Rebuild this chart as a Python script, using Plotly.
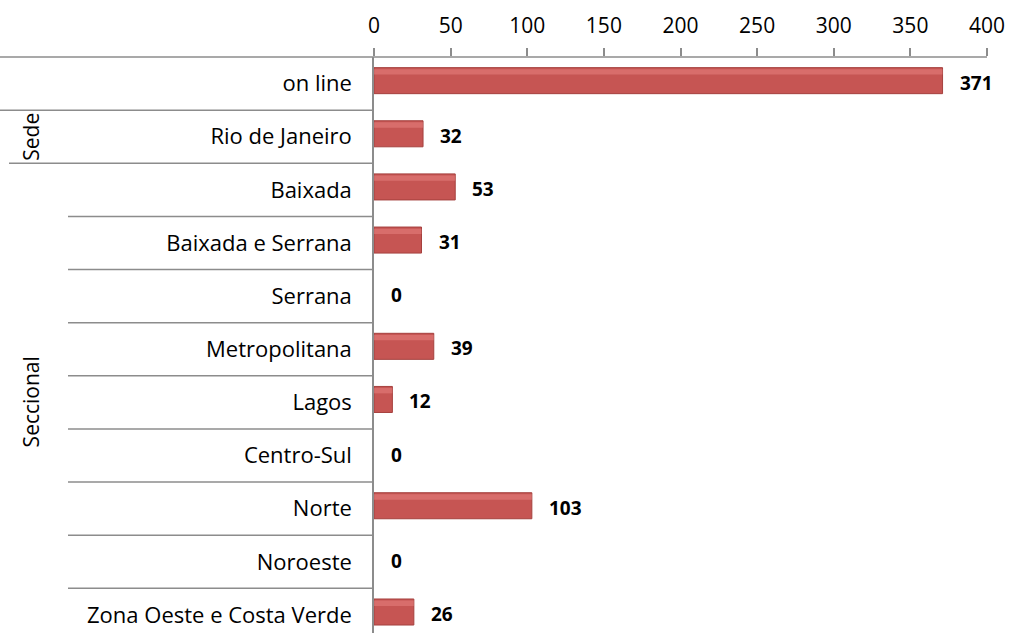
import plotly.graph_objects as go

categories = ["on line", "Rio de Janeiro", "Baixada", "Baixada e Serrana", "Serrana",
              "Metropolitana", "Lagos", "Centro-Sul", "Norte", "Noroeste",
              "Zona Oeste e Costa Verde"]
values = [371, 32, 53, 31, 0, 39, 12, 0, 103, 0, 26]
groups = ["Sede", "Seccional"]
group_sizes = [2, 9]
x_ticks = [0, 50, 100, 150, 200, 250, 300, 350, 400]

W, H = 1011, 633
ML, MR, MT, MB = 374, 24, 57, 0
pw = W - ML - MR
FONT = "Open Sans"
GRID = "#8C8C8C"

def px_to_paper(px):
    return (px - ML) / pw

line_w = [1 if v > 0 else 0 for v in values]

fig = go.Figure()
fig.add_trace(go.Bar(
    y=categories, x=values, orientation="h", width=0.49, offset=-0.3,
    marker=dict(color="#C65553", line=dict(color="#A5403E", width=line_w)),
    hoverinfo="x+y", showlegend=False,
))
# subtle highlight band (bevel look)
fig.add_trace(go.Bar(
    y=categories, x=values, orientation="h", width=0.1, offset=-0.27,
    marker=dict(color="rgba(238,140,138,0.45)", line=dict(width=0)),
    hoverinfo="skip", showlegend=False,
))

# value labels
for c, v in zip(categories, values):
    fig.add_annotation(x=v, y=c, text=f"<b>{v}</b>", showarrow=False,
                       xanchor="left", xshift=15, yshift=1,
                       font=dict(family=FONT, size=19, color="black"))

shapes = []
n = len(categories)
# top line across whole width
shapes.append(dict(type="line", xref="paper", yref="paper", x0=px_to_paper(0), x1=1,
                   y0=1, y1=1, line=dict(color=GRID, width=1.5)))
# row separators
start = 0
for gi, size in enumerate(group_sizes):
    for k in range(1, size + 1):
        idx = start + k
        b = idx - 0.5
        if b > n - 0.5:
            continue
        if idx == start + size:
            x0 = px_to_paper(9)
        else:
            x0 = px_to_paper(0) if gi == 0 else px_to_paper(68)
        shapes.append(dict(type="line", xref="paper", yref="y", x0=x0, x1=0,
                           y0=b, y1=b, line=dict(color=GRID, width=1.5)))
    start += size

# group labels
start = 0
for g, size in zip(groups, group_sizes):
    yc = start + (size - 1) / 2
    if g == "Sede":
        yc = start + 1.0
    fig.add_annotation(x=px_to_paper(31), xref="paper", y=yc, yref="y", text=g,
                       textangle=-90, showarrow=False, xanchor="center", yanchor="middle",
                       font=dict(family=FONT, size=21, color="black"))
    start += size

fig.update_layout(
    width=W, height=H, margin=dict(l=ML, r=MR, t=MT, b=MB),
    paper_bgcolor="white", plot_bgcolor="white",
    barmode="overlay",
    shapes=shapes,
    xaxis=dict(side="top", range=[0, 400], tickvals=x_ticks, ticks="outside",
               ticklen=8, tickcolor=GRID, tickwidth=1.5, showgrid=False,
               zeroline=False, showline=False, ticklabelstandoff=7,
               tickfont=dict(family=FONT, size=21, color="black")),
    yaxis=dict(type="category", categoryorder="array", categoryarray=categories,
               range=[10.34, -0.5], showgrid=False, zeroline=False,
               showline=True, linecolor=GRID, linewidth=1.5, ticks="",
               ticklabelstandoff=16,
               tickfont=dict(family=FONT, size=22, color="black")),
    font=dict(family=FONT),
)

fig.write_html("out.html")
